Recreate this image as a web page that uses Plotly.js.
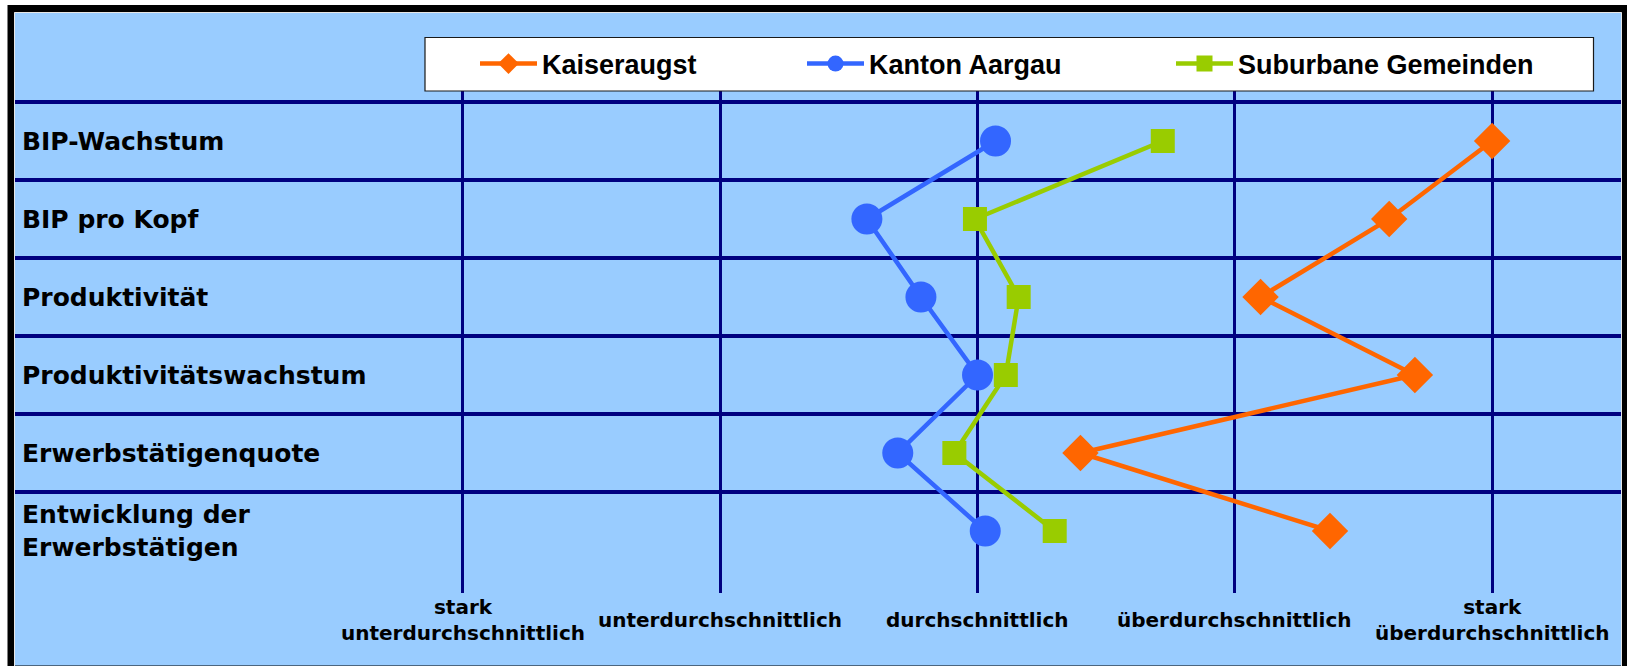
<!DOCTYPE html>
<html>
<head>
<meta charset="utf-8">
<script src="https://cdn.plot.ly/plotly-3.0.1.min.js"></script>
<style>
html, body { margin: 0; padding: 0; background: #ffffff; }
#chart { width: 1627px; height: 666px; }
</style>
</head>
<body>
<div id="chart"></div>
<script>
// ---- data ----
const categories = [
  'BIP-Wachstum',
  'BIP pro Kopf',
  'Produktivität',
  'Produktivitätswachstum',
  'Erwerbstätigenquote',
  'Entwicklung der<br>Erwerbstätigen'
];
const kaiseraugst        = [5.00, 4.60, 4.10, 4.70, 3.40, 4.37];
const kantonAargau       = [3.07, 2.57, 2.78, 3.00, 2.69, 3.03];
const suburbaneGemeinden = [3.72, 2.99, 3.16, 3.11, 2.91, 3.30];
const seriesNames = ['Kaiseraugst', 'Kanton Aargau', 'Suburbane Gemeinden'];
const scaleValues = [1, 2, 3, 4, 5];
const scaleLabels = [
  'stark<br>unterdurchschnittlich',
  'unterdurchschnittlich',
  'durchschnittlich',
  'überdurchschnittlich',
  'stark<br>überdurchschnittlich'
];

// ---- geometry helpers (pixel -> paper) ----
const W = 1627, H = 666, L = 15, R = 6, T = 91, B = 73;
const PW = W - L - R, PH = H - T - B;
const px = v => (v - L) / PW;
const py = v => (T + PH - v) / PH;

const NAVY = '#000080';
const BG = '#99CCFF';
const legendFont = { family: 'Liberation Sans, Arial, sans-serif', size: 27, weight: 'bold', color: '#000000' };
const labelFont = { family: 'DejaVu Sans, Verdana, sans-serif', size: 25, weight: 'bold', color: '#000000' };
const scaleFont = { family: 'DejaVu Sans, Verdana, sans-serif', size: 20, weight: 'bold', color: '#000000' };

const traces = [
  {
    type: 'scatter', mode: 'lines+markers',
    x: kaiseraugst, y: categories, name: seriesNames[0], legend: 'legend',
    line: { color: '#FF6600', width: 4.5 },
    marker: { symbol: 'diamond', size: 28, color: '#FF6600' }
  },
  {
    type: 'scatter', mode: 'lines+markers',
    x: kantonAargau, y: categories, name: seriesNames[1], legend: 'legend2',
    line: { color: '#3366FF', width: 4.5 },
    marker: { symbol: 'circle', size: 31, color: '#3366FF' }
  },
  {
    type: 'scatter', mode: 'lines+markers',
    x: suburbaneGemeinden, y: categories, name: seriesNames[2], legend: 'legend3',
    line: { color: '#99CC00', width: 4.5 },
    marker: { symbol: 'square', size: 24, color: '#99CC00' }
  }
];

function legendAt(xpx) {
  return {
    x: px(xpx), y: py(64), xanchor: 'left', yanchor: 'middle',
    orientation: 'h', bgcolor: 'rgba(0,0,0,0)', borderwidth: 0,
    font: legendFont, itemwidth: 57
  };
}

const annotations = scaleLabels.map((t, i) => ({
  x: scaleValues[i], xref: 'x', y: py(620), yref: 'paper',
  text: t, showarrow: false, xanchor: 'center', yanchor: 'middle',
  align: 'center', font: scaleFont
}));

const layout = {
  width: W, height: H,
  margin: { l: L, r: R, t: T, b: B, pad: 0 },
  paper_bgcolor: '#ffffff',
  plot_bgcolor: 'rgba(0,0,0,0)',
  showlegend: true,
  legend: legendAt(475),
  legend2: legendAt(802),
  legend3: legendAt(1171),
  xaxis: {
    range: [-0.741, 5.501],
    tickvals: scaleValues,
    showticklabels: false,
    showgrid: true, gridcolor: NAVY, gridwidth: 3,
    zeroline: false, showline: false, ticks: '', fixedrange: true
  },
  yaxis: {
    type: 'category',
    categoryorder: 'array', categoryarray: categories,
    range: [5.795, -0.641],
    tickson: 'boundaries',
    showgrid: true, gridcolor: NAVY, gridwidth: 4,
    zeroline: false, showline: false, ticks: '',
    ticklabelposition: 'inside', ticklabelstandoff: 4,
    tickfont: labelFont, fixedrange: true
  },
  shapes: [
    { type: 'rect', xref: 'paper', yref: 'paper', layer: 'below',
      x0: px(11), x1: px(1625), y0: py(669), y1: py(8.5),
      fillcolor: BG, line: { color: '#000000', width: 7 } },
    { type: 'rect', xref: 'paper', yref: 'paper', layer: 'below',
      x0: px(14.5), x1: px(1621.5), y0: py(672), y1: py(12.5),
      fillcolor: 'rgba(0,0,0,0)', line: { color: '#e6e6e6', width: 1 } },
    { type: 'rect', xref: 'paper', yref: 'paper', layer: 'above',
      x0: px(425), x1: px(1593.5), y0: py(91), y1: py(37.5),
      fillcolor: '#ffffff', line: { color: '#1a1a1a', width: 1.2 } }
  ],
  annotations: annotations
};

Plotly.newPlot('chart', traces, layout, { displayModeBar: false, staticPlot: true });
</script>
</body>
</html>
